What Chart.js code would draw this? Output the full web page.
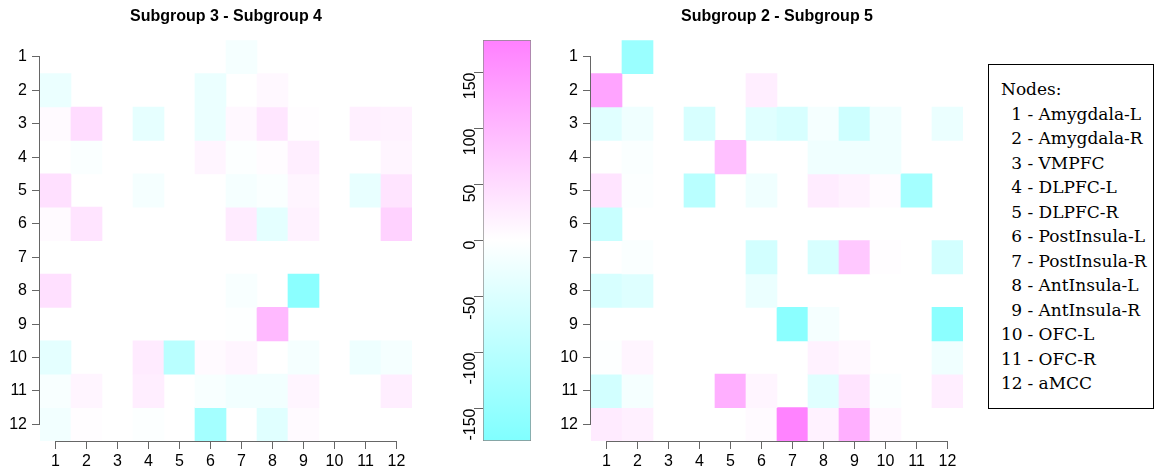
<!DOCTYPE html>
<html>
<head>
<meta charset="utf-8">
<script src="https://cdn.jsdelivr.net/npm/chart.js@4/dist/chart.umd.min.js"></script>
<style>
  body { margin: 0; background: #fff; }
  #wrap { position: relative; width: 1162px; height: 474px; overflow: hidden; }
  .box { position: absolute; top: 0; height: 474px; }
  #legend {
    position: absolute; left: 988px; top: 64px; width: 166px; height: 345px;
    border: 1px solid #000; box-sizing: border-box;
    font-family: "DejaVu Serif", serif; font-size: 17px; color: #000;
    padding: 12px 0 0 12px; line-height: 24.5px;
  }
  #legend .n { display: inline-block; width: 21px; text-align: right; }
</style>
</head>
<body>
<div id="wrap">
  <div class="box" style="left:0;width:420px"><canvas id="left"></canvas></div>
  <div class="box" style="left:440px;width:100px"><canvas id="bar"></canvas></div>
  <div class="box" style="left:551px;width:420px"><canvas id="right"></canvas></div>
  <div id="legend"></div>
</div>
<script>
const cols = ['1', '2', '3', '4', '5', '6', '7', '8', '9', '10', '11', '12'];
const rowTicks = [1, 2, 3, 4, 5, 6, 7, 8, 9, 10, 11, 12];
const nodes = ['Amygdala-L', 'Amygdala-R', 'VMPFC', 'DLPFC-L', 'DLPFC-R', 'PostInsula-L',
  'PostInsula-R', 'AntInsula-L', 'AntInsula-R', 'OFC-L', 'OFC-R', 'aMCC'];
const colorRange = [-179, 179];
const barTicks = [-150, -100, -50, 0, 50, 100, 150];

// rows 1..12 (top to bottom), columns 1..12, 0 = empty cell
const diff34 = [
  [0, 0, 0, 0, 0, 0, -14, 0, 0, 0, 0, 0],
  [-28, 0, 0, 0, 0, -28, 0, 10, 0, 0, 0, 0],
  [7, 50, 0, -35, 0, -28, 10, 35, 3, 0, 21, 18],
  [0, -7, 0, 0, 0, 14, -4, 4, 24, 0, 0, 14],
  [43, 0, 0, -14, 0, 0, -14, -7, 14, 0, -33, 38],
  [7, 38, 0, 0, 0, 0, 28, -38, 18, 0, 0, 64],
  [0, 0, 0, 0, 0, 0, 0, 0, 0, 0, 0, 0],
  [43, 0, 0, 0, 0, 0, -10, 0, -163, 0, 0, 0],
  [0, 0, 0, 0, 0, 0, -3, 99, 0, 0, 0, 0],
  [-38, 0, 0, 28, -99, 7, 14, 0, -14, 0, -24, -14],
  [-10, 14, 0, 24, 0, -10, -18, -18, 14, 0, 0, 24],
  [-18, 3, 0, -4, 0, -128, 0, -43, 7, 0, 0, 0]
];
const diff25 = [
  [0, -142, 0, 0, 0, 0, 0, 0, 0, 0, 0, 0],
  [128, 0, 0, 0, 0, 24, 0, 0, 0, 0, 0, 0],
  [-43, -21, 0, -57, 0, -43, -57, -14, -71, -21, 0, -28],
  [0, -7, 0, 0, 89, 0, 0, -21, -21, -21, 0, 0],
  [38, -4, 0, -99, 0, -21, 0, 27, 18, 5, -128, 0],
  [-78, 0, 0, 0, 0, 0, 0, 0, 0, 0, 0, 0],
  [0, -7, 0, 0, 0, -64, 0, -57, 78, 3, 0, -64],
  [-57, -47, 0, 0, 0, -28, 0, 0, 0, 0, 0, 0],
  [0, 0, 0, 0, 0, 0, -163, -14, 0, 0, 0, -163],
  [-3, 14, 0, 0, 0, 0, 0, 18, 10, 0, 0, -21],
  [-64, -14, 0, 0, 113, 14, 0, -43, 38, -5, 0, 24],
  [28, 21, 0, 0, 0, 7, 175, 18, 113, 10, 0, 0]
];

const tickFont = { family: 'Liberation Sans, Arial, sans-serif', size: 16 };
const axisColor = '#666';

function cellColor(v) {
  const t = Math.min(Math.abs(v) / colorRange[1], 1);
  const c = Math.round(255 - 127 * t);
  return v >= 0 ? `rgb(255,${c},255)` : `rgb(${c},255,255)`;
}

// R-style axis line running only between first and last tick
const spinePlugin = {
  id: 'spine',
  afterDraw(chart) {
    const { ctx, chartArea } = chart;
    ctx.save();
    ctx.strokeStyle = axisColor;
    ctx.lineWidth = 1;
    Object.values(chart.scales).forEach(s => {
      if (!s.options.display || !s.ticks.length) return;
      const a = s.getPixelForTick(0), b = s.getPixelForTick(s.ticks.length - 1);
      ctx.beginPath();
      if (s.axis === 'y') {
        const x = Math.round(chartArea.left) - 0.5;
        ctx.moveTo(x, a); ctx.lineTo(x, b);
      } else {
        const y = Math.round(chartArea.bottom) + 0.5;
        ctx.moveTo(a, y); ctx.lineTo(b, y);
      }
      ctx.stroke();
    });
    ctx.restore();
  }
};

function heatmap(id, title, matrix) {
  const datasets = matrix.map((row, r) => ({
    data: row.map(v => v === 0 ? null : [rowTicks[r] - 0.5, rowTicks[r] + 0.5]),
    backgroundColor: row.map(cellColor),
    borderWidth: 0,
    grouped: false,
    barPercentage: 1,
    categoryPercentage: 1
  }));
  new Chart(document.getElementById(id), {
    type: 'bar',
    data: { labels: cols, datasets },
    options: {
      responsive: true,
      maintainAspectRatio: false,
      animation: false,
      layout: { padding: { right: 8 } },
      plugins: {
        legend: { display: false },
        tooltip: { enabled: false },
        title: {
          display: true, text: title, fullSize: false, color: '#000',
          font: { family: 'Liberation Sans, Arial, sans-serif', size: 16, weight: 'bold' },
          padding: { top: 7, bottom: 14 }
        }
      },
      scales: {
        x: {
          grid: { offset: false, drawOnChartArea: false, tickLength: 8, color: axisColor },
          border: { display: false },
          ticks: { color: '#000', font: tickFont, padding: 3, maxRotation: 0 },
          afterFit(s) { s.height = 33; }
        },
        y: {
          reverse: true, min: 0.5, max: 12.5,
          grid: { drawOnChartArea: false, tickLength: 8, color: axisColor },
          border: { display: false },
          ticks: { color: '#000', font: tickFont, padding: 5 },
          afterBuildTicks(s) { s.ticks = rowTicks.map(v => ({ value: v })); },
          afterFit(s) { s.width = 40; }
        }
      }
    },
    plugins: [spinePlugin]
  });
}

heatmap('left', 'Subgroup 3 - Subgroup 4', diff34);
heatmap('right', 'Subgroup 2 - Subgroup 5', diff25);

new Chart(document.getElementById('bar'), {
  type: 'bar',
  data: {
    labels: [''],
    datasets: [{
      data: [colorRange],
      backgroundColor(ctx) {
        const chart = ctx.chart;
        if (!chart.chartArea) return null;
        const y = chart.scales.y;
        const g = chart.ctx.createLinearGradient(0, y.getPixelForValue(colorRange[0]), 0, y.getPixelForValue(colorRange[1]));
        g.addColorStop(0, cellColor(colorRange[0]));
        g.addColorStop(0.5, '#ffffff');
        g.addColorStop(1, cellColor(colorRange[1]));
        return g;
      },
      borderColor: '#888',
      borderWidth: 1,
      borderSkipped: false,
      barPercentage: 1,
      categoryPercentage: 1
    }]
  },
  options: {
    responsive: true,
    maintainAspectRatio: false,
    animation: false,
    layout: { padding: { top: 40, bottom: 33, right: 9 } },
    plugins: { legend: { display: false }, tooltip: { enabled: false } },
    scales: {
      x: { display: false },
      y: {
        min: colorRange[0], max: colorRange[1],
        grid: { drawOnChartArea: false, tickLength: 9, color: axisColor },
        border: { display: false },
        ticks: { color: '#000', font: tickFont, padding: 3, minRotation: 90, maxRotation: 90 },
        afterBuildTicks(s) { s.ticks = barTicks.map(v => ({ value: v })); },
        afterFit(s) { s.width = 43; }
      }
    }
  }
});

document.getElementById('legend').innerHTML = '<div>Nodes:</div>' +
  nodes.map((n, i) => `<div><span class="n">${i + 1}</span> - ${n}</div>`).join('');
</script>
</body>
</html>
